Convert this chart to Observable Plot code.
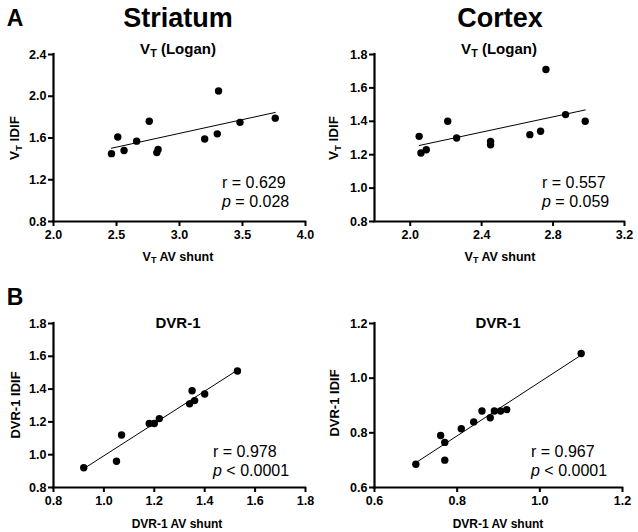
<!DOCTYPE html>
<html><head><meta charset="utf-8">
<script src="https://cdn.jsdelivr.net/npm/d3@7"></script>
<script src="https://cdn.jsdelivr.net/npm/@observablehq/plot@0.6"></script>
<style>
body{margin:0;background:#fff;font-family:"Liberation Sans",Arial,sans-serif;}
#wrap{position:relative;width:638px;height:532px;overflow:hidden;background:#fff}
.abs{position:absolute;white-space:nowrap;color:#000;line-height:1}
.c{transform:translate(-50%,-50%)}
.rot{transform:translate(-50%,-50%) rotate(-90deg)}
.panel{position:absolute}
sub{font-size:0.72em;vertical-align:-0.3em;line-height:0}
</style></head><body><div id="wrap"></div>
<script>
// ---- data ----
const striatumVtShunt = [2.46, 2.51, 2.56, 2.66, 2.76, 2.82, 2.83, 3.20, 3.30, 3.31, 3.48, 3.76];
const striatumVtIdif  = [1.45, 1.61, 1.48, 1.57, 1.76, 1.46, 1.49, 1.59, 1.64, 2.05, 1.75, 1.79];
const cortexVtShunt   = [2.05, 2.06, 2.09, 2.21, 2.26, 2.45, 2.45, 2.67, 2.73, 2.76, 2.87, 2.98];
const cortexVtIdif    = [1.31, 1.21, 1.23, 1.40, 1.30, 1.28, 1.26, 1.32, 1.34, 1.71, 1.44, 1.40];
const striatumDvrShunt = [0.92, 1.05, 1.07, 1.18, 1.20, 1.22, 1.34, 1.35, 1.36, 1.40, 1.53];
const striatumDvrIdif  = [0.92, 0.96, 1.12, 1.19, 1.19, 1.22, 1.31, 1.39, 1.33, 1.37, 1.51];
const cortexDvrShunt   = [0.70, 0.76, 0.77, 0.77, 0.81, 0.84, 0.86, 0.88, 0.89, 0.905, 0.92, 1.10];
const cortexDvrIdif    = [0.685, 0.79, 0.765, 0.70, 0.815, 0.84, 0.88, 0.855, 0.88, 0.88, 0.885, 1.09];

const striatumVtXTicks = [2.0, 2.5, 3.0, 3.5, 4.0];
const striatumVtYTicks = [0.8, 1.2, 1.6, 2.0, 2.4];
const cortexVtXTicks = [2.0, 2.4, 2.8, 3.2];
const cortexVtXDomain = [1.8, 3.2];
const cortexVtYTicks = [0.8, 1.0, 1.2, 1.4, 1.6, 1.8];
const striatumDvrXTicks = [0.8, 1.0, 1.2, 1.4, 1.6, 1.8];
const striatumDvrYTicks = [0.8, 1.0, 1.2, 1.4, 1.6, 1.8];
const cortexDvrXTicks = [0.6, 0.8, 1.0, 1.2];
const cortexDvrYTicks = [0.6, 0.8, 1.0, 1.2];

const stats = [
  {r: "0.629", p: "= 0.028"},
  {r: "0.557", p: "= 0.059"},
  {r: "0.978", p: "< 0.0001"},
  {r: "0.967", p: "< 0.0001"}
];

const FONT = '"Liberation Sans", Arial, sans-serif';
const fmt = d3.format(".1f");
const wrap = document.getElementById("wrap");

function panel({xs, ys, xTicks, xDomain, yTicks, left, top, height, marginTop, marginBottom, marginRight}) {
  const xd = xDomain || [xTicks[0], xTicks[xTicks.length - 1]];
  const yd = [yTicks[0], yTicks[yTicks.length - 1]];
  const data = xs.map((x, i) => ({x, y: ys[i]}));
  const chart = Plot.plot({
    width: 318, height, marginLeft: 53, marginRight, marginTop, marginBottom,
    style: {fontFamily: FONT, fontSize: "12.5px", fontWeight: "bold", color: "#000", background: "transparent", overflow: "visible"},
    x: {domain: xd},
    y: {domain: yd},
    marks: [
      Plot.axisX({ticks: xTicks, tickFormat: fmt, tickSize: 5, tickPadding: 4, strokeWidth: 2, label: null, fontWeight: "bold"}),
      Plot.axisY({ticks: yTicks, tickFormat: fmt, tickSize: 5, tickPadding: 2, strokeWidth: 2, label: null, fontWeight: "bold"}),
      Plot.ruleX([xd[0]], {stroke: "#000", strokeWidth: 2.2, strokeLinecap: "square"}),
      Plot.ruleY([yd[0]], {stroke: "#000", strokeWidth: 2.2, strokeLinecap: "square"}),
      Plot.linearRegressionY(data, {x: "x", y: "y", ci: 0, stroke: "#000", strokeWidth: 1}),
      Plot.dot(data, {x: "x", y: "y", r: 3.7, fill: "#000", stroke: "none"})
    ]
  });
  chart.classList.add("panel");
  chart.style.left = left + "px";
  chart.style.top = top + "px";
  wrap.appendChild(chart);
}

panel({xs: striatumVtShunt, ys: striatumVtIdif, xTicks: striatumVtXTicks, yTicks: striatumVtYTicks,
  left: 0, top: 0, height: 272, marginTop: 54, marginBottom: 51, marginRight: 13});
panel({xs: cortexVtShunt, ys: cortexVtIdif, xTicks: cortexVtXTicks, xDomain: cortexVtXDomain, yTicks: cortexVtYTicks,
  left: 321, top: 0, height: 272, marginTop: 54, marginBottom: 51, marginRight: 15});
panel({xs: striatumDvrShunt, ys: striatumDvrIdif, xTicks: striatumDvrXTicks, yTicks: striatumDvrYTicks,
  left: 0, top: 268, height: 264, marginTop: 55, marginBottom: 45, marginRight: 13});
panel({xs: cortexDvrShunt, ys: cortexDvrIdif, xTicks: cortexDvrXTicks, yTicks: cortexDvrYTicks,
  left: 321, top: 268, height: 264, marginTop: 55, marginBottom: 45, marginRight: 17});

function label(html, x, y, css, cls) {
  const d = document.createElement("div");
  d.className = "abs " + (cls || "c");
  d.innerHTML = html;
  d.style.left = x + "px";
  d.style.top = y + "px";
  d.style.cssText += css;
  wrap.appendChild(d);
}

// panel letters and region titles
label("A", 15, 18, "font-size:23px;font-weight:bold;");
label("B", 15, 297, "font-size:23px;font-weight:bold;");
label("Striatum", 178, 18, "font-size:27px;font-weight:bold;");
label("Cortex", 500, 18, "font-size:27px;font-weight:bold;");

// subtitles
label("V<sub>T</sub> (Logan)", 178, 48, "font-size:15px;font-weight:bold;");
label("V<sub>T</sub> (Logan)", 499, 48, "font-size:15px;font-weight:bold;");
label("DVR-1", 178, 322, "font-size:15px;font-weight:bold;");
label("DVR-1", 498, 322, "font-size:15px;font-weight:bold;");

// x axis titles
label("V<sub>T</sub> AV shunt", 178, 257, "font-size:12.5px;font-weight:bold;");
label("V<sub>T</sub> AV shunt", 500, 257, "font-size:12.5px;font-weight:bold;");
label("DVR-1 AV shunt", 177, 524, "font-size:12px;font-weight:bold;");
label("DVR-1 AV shunt", 498, 524, "font-size:12px;font-weight:bold;");

// y axis titles
label("V<sub>T</sub> IDIF", 15, 138, "font-size:13.5px;font-weight:bold;", "rot");
label("V<sub>T</sub> IDIF", 334, 138, "font-size:13.5px;font-weight:bold;", "rot");
label("DVR-1 IDIF", 15, 405, "font-size:13px;font-weight:bold;", "rot");
label("DVR-1 IDIF", 334, 403, "font-size:13px;font-weight:bold;", "rot");

// statistics
const statPos = [[222, 183], [542, 183], [213, 452], [531, 452]];
stats.forEach((s, i) => {
  const [x, y] = statPos[i];
  label("r = " + s.r, x, y, "font-size:16px;transform:translateY(-50%);", "");
  label("<i>p</i> " + s.p, x, y + 19, "font-size:16px;transform:translateY(-50%);", "");
});
</script>
</body></html>
